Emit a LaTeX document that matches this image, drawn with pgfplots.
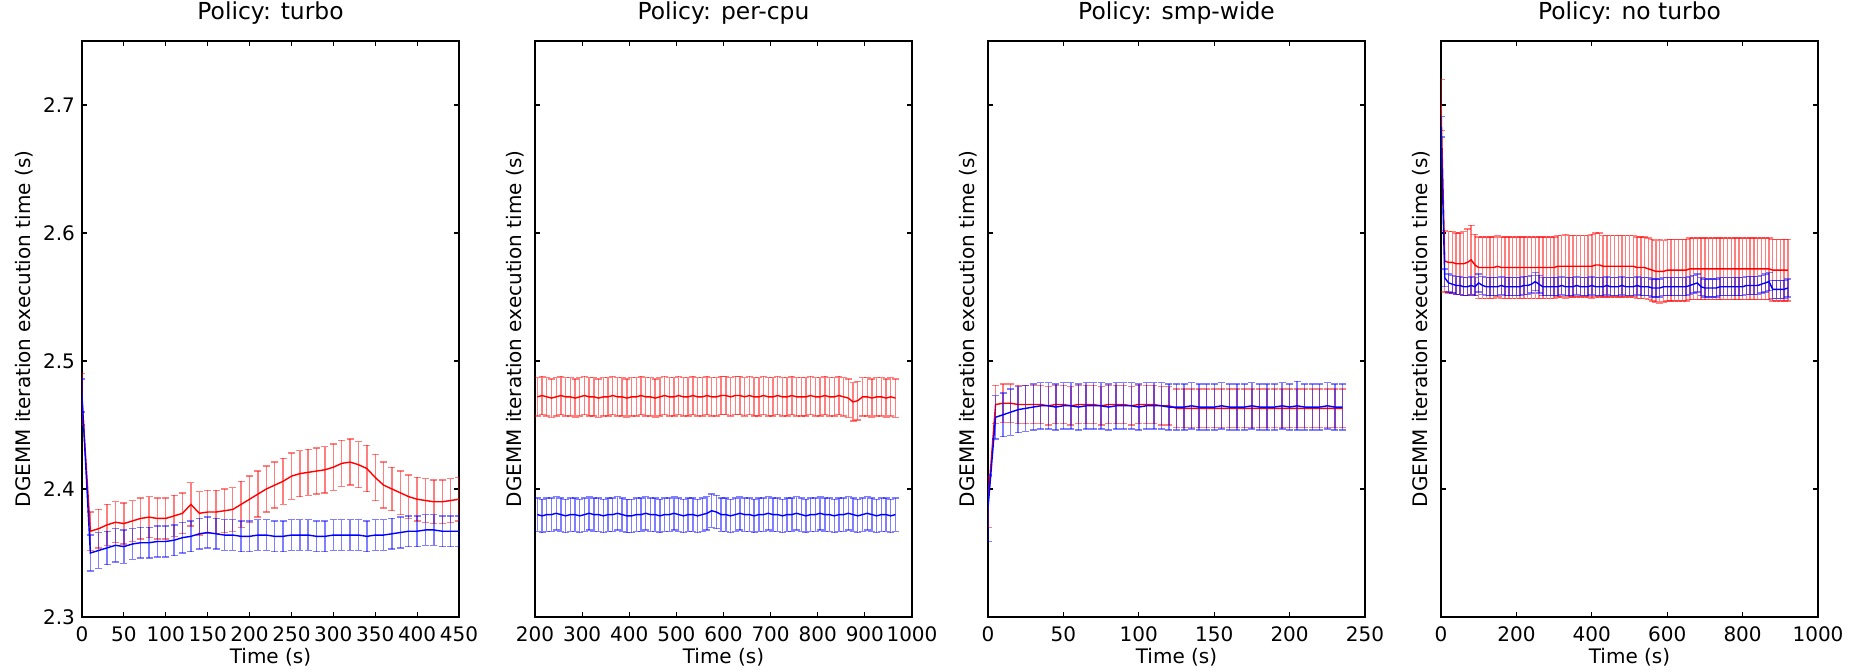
\documentclass[border=0pt]{standalone}
\usepackage{fontspec}
\setmainfont{DejaVu Sans}
\usepackage{pgfplots}
\usepackage{pgfplotstable}
\pgfplotsset{compat=1.18}

\definecolor{mplred}{HTML}{FF0000}
\definecolor{mplblue}{HTML}{0000FF}

% columns: time, red mean, red err, blue mean, blue err
\pgfplotstableread{
x r re b be
0 2.470 0.020 2.473 0.013
10 2.367 0.015 2.350 0.014
20 2.369 0.015 2.352 0.014
30 2.372 0.016 2.354 0.013
40 2.374 0.016 2.356 0.013
50 2.373 0.016 2.355 0.013
60 2.375 0.016 2.357 0.012
70 2.377 0.016 2.358 0.012
80 2.378 0.016 2.358 0.012
90 2.377 0.016 2.359 0.012
100 2.377 0.016 2.359 0.012
110 2.379 0.016 2.360 0.012
120 2.381 0.016 2.362 0.012
130 2.388 0.017 2.363 0.012
140 2.381 0.017 2.365 0.012
150 2.382 0.017 2.366 0.012
160 2.382 0.017 2.365 0.012
170 2.383 0.017 2.364 0.012
180 2.384 0.017 2.364 0.012
190 2.388 0.018 2.363 0.012
200 2.392 0.018 2.363 0.012
210 2.396 0.018 2.364 0.012
220 2.400 0.018 2.364 0.012
230 2.403 0.018 2.363 0.012
240 2.406 0.018 2.363 0.012
250 2.410 0.018 2.364 0.012
260 2.412 0.018 2.364 0.012
270 2.413 0.018 2.364 0.012
280 2.414 0.018 2.363 0.012
290 2.415 0.018 2.363 0.012
300 2.417 0.018 2.364 0.012
310 2.420 0.018 2.364 0.012
320 2.421 0.018 2.364 0.012
330 2.419 0.018 2.364 0.012
340 2.416 0.018 2.363 0.012
350 2.409 0.018 2.364 0.012
360 2.403 0.018 2.364 0.012
370 2.400 0.017 2.365 0.012
380 2.397 0.017 2.366 0.012
390 2.394 0.017 2.367 0.012
400 2.392 0.017 2.367 0.012
410 2.391 0.017 2.368 0.012
420 2.390 0.017 2.368 0.012
430 2.390 0.017 2.367 0.012
440 2.391 0.017 2.367 0.012
450 2.392 0.017 2.367 0.012
}\turbo

\pgfplotstableread{
x r re b be
205 2.472 0.015 2.380 0.013
215 2.473 0.015 2.379 0.013
225 2.472 0.015 2.380 0.013
235 2.471 0.015 2.380 0.013
245 2.472 0.015 2.381 0.013
255 2.473 0.015 2.380 0.013
265 2.472 0.015 2.379 0.013
275 2.472 0.015 2.380 0.013
285 2.471 0.015 2.380 0.013
295 2.472 0.015 2.379 0.013
305 2.473 0.015 2.380 0.013
315 2.472 0.015 2.381 0.013
325 2.472 0.015 2.380 0.013
335 2.471 0.015 2.380 0.013
345 2.472 0.015 2.379 0.013
355 2.472 0.015 2.380 0.013
365 2.473 0.015 2.380 0.013
375 2.472 0.015 2.381 0.013
385 2.472 0.015 2.380 0.013
395 2.471 0.015 2.379 0.013
405 2.472 0.015 2.379 0.013
415 2.472 0.015 2.380 0.013
425 2.473 0.015 2.380 0.013
435 2.472 0.015 2.381 0.013
445 2.472 0.015 2.380 0.013
455 2.471 0.015 2.380 0.013
465 2.472 0.015 2.379 0.013
475 2.473 0.015 2.380 0.013
485 2.472 0.015 2.380 0.013
495 2.472 0.015 2.381 0.013
505 2.473 0.015 2.380 0.013
515 2.472 0.015 2.379 0.013
525 2.472 0.015 2.380 0.013
535 2.473 0.015 2.380 0.013
545 2.472 0.015 2.379 0.013
555 2.472 0.015 2.380 0.013
565 2.473 0.015 2.381 0.013
575 2.472 0.015 2.383 0.013
585 2.472 0.015 2.382 0.013
595 2.473 0.015 2.380 0.013
605 2.473 0.015 2.380 0.013
615 2.472 0.015 2.379 0.013
625 2.473 0.015 2.380 0.013
635 2.473 0.015 2.381 0.013
645 2.472 0.015 2.380 0.013
655 2.473 0.015 2.380 0.013
665 2.472 0.015 2.379 0.013
675 2.472 0.015 2.380 0.013
685 2.473 0.015 2.380 0.013
695 2.472 0.015 2.381 0.013
705 2.472 0.015 2.380 0.013
715 2.473 0.015 2.380 0.013
725 2.472 0.015 2.379 0.013
735 2.472 0.015 2.380 0.013
745 2.473 0.015 2.380 0.013
755 2.472 0.015 2.381 0.013
765 2.472 0.015 2.380 0.013
775 2.472 0.015 2.379 0.013
785 2.473 0.015 2.380 0.013
795 2.472 0.015 2.380 0.013
805 2.472 0.015 2.381 0.013
815 2.473 0.015 2.380 0.013
825 2.472 0.015 2.380 0.013
835 2.472 0.015 2.379 0.013
845 2.473 0.015 2.380 0.013
855 2.472 0.015 2.380 0.013
865 2.471 0.015 2.381 0.013
875 2.468 0.015 2.380 0.013
885 2.469 0.015 2.379 0.013
895 2.472 0.015 2.380 0.013
905 2.472 0.015 2.381 0.013
915 2.471 0.015 2.380 0.013
925 2.472 0.015 2.379 0.013
935 2.472 0.015 2.380 0.013
945 2.471 0.015 2.380 0.013
955 2.472 0.015 2.379 0.013
965 2.471 0.015 2.380 0.013
}\percpu

\pgfplotstableread{
x r re b be
0 2.390 0.020 2.385 0.026
5 2.466 0.015 2.456 0.017
10 2.467 0.015 2.458 0.017
15 2.467 0.015 2.460 0.018
20 2.466 0.015 2.462 0.018
25 2.466 0.015 2.463 0.018
30 2.466 0.015 2.464 0.018
35 2.466 0.015 2.465 0.018
40 2.465 0.015 2.465 0.018
45 2.466 0.015 2.464 0.018
50 2.466 0.015 2.465 0.018
55 2.465 0.015 2.465 0.018
60 2.466 0.015 2.464 0.018
65 2.466 0.015 2.465 0.018
70 2.466 0.015 2.465 0.018
75 2.465 0.015 2.465 0.018
80 2.466 0.015 2.464 0.018
85 2.466 0.015 2.465 0.018
90 2.466 0.015 2.465 0.018
95 2.465 0.015 2.465 0.018
100 2.466 0.015 2.464 0.018
105 2.466 0.015 2.465 0.018
110 2.466 0.015 2.465 0.018
115 2.465 0.015 2.465 0.018
120 2.465 0.015 2.464 0.018
125 2.463 0.015 2.464 0.018
130 2.463 0.015 2.464 0.018
135 2.463 0.015 2.465 0.018
140 2.463 0.015 2.464 0.018
145 2.463 0.015 2.464 0.018
150 2.463 0.015 2.464 0.018
155 2.463 0.015 2.465 0.018
160 2.463 0.015 2.464 0.018
165 2.463 0.015 2.464 0.018
170 2.463 0.015 2.464 0.018
175 2.463 0.015 2.465 0.018
180 2.463 0.015 2.464 0.018
185 2.463 0.015 2.464 0.018
190 2.463 0.015 2.464 0.018
195 2.463 0.015 2.465 0.018
200 2.463 0.015 2.464 0.018
205 2.463 0.015 2.465 0.019
210 2.463 0.015 2.464 0.018
215 2.463 0.015 2.464 0.018
220 2.463 0.015 2.464 0.018
225 2.463 0.015 2.465 0.018
230 2.463 0.015 2.464 0.018
235 2.463 0.015 2.464 0.018
}\smpwide

\pgfplotstableread{
x r re b be
0 2.700 0.020 2.683 0.008
10 2.578 0.024 2.565 0.007
20 2.577 0.024 2.561 0.007
30 2.577 0.024 2.560 0.007
40 2.576 0.024 2.559 0.007
50 2.576 0.024 2.559 0.007
60 2.576 0.025 2.558 0.007
70 2.577 0.026 2.558 0.007
80 2.579 0.027 2.559 0.007
90 2.575 0.024 2.558 0.007
100 2.573 0.024 2.561 0.007
110 2.573 0.024 2.559 0.007
120 2.573 0.024 2.558 0.007
130 2.573 0.024 2.558 0.007
140 2.573 0.024 2.558 0.007
150 2.574 0.024 2.558 0.007
160 2.573 0.024 2.559 0.007
170 2.573 0.024 2.558 0.007
180 2.573 0.024 2.558 0.007
190 2.573 0.024 2.558 0.007
200 2.573 0.024 2.558 0.007
210 2.573 0.024 2.558 0.007
220 2.573 0.024 2.559 0.007
230 2.573 0.024 2.559 0.007
240 2.573 0.024 2.560 0.007
250 2.573 0.024 2.562 0.007
260 2.573 0.024 2.560 0.007
270 2.573 0.024 2.558 0.007
280 2.573 0.024 2.558 0.007
290 2.573 0.024 2.558 0.007
300 2.573 0.024 2.558 0.007
310 2.574 0.024 2.558 0.007
320 2.574 0.024 2.559 0.007
330 2.574 0.025 2.558 0.007
340 2.574 0.024 2.558 0.007
350 2.574 0.024 2.558 0.007
360 2.574 0.024 2.559 0.007
370 2.574 0.024 2.558 0.007
380 2.574 0.024 2.558 0.007
390 2.574 0.024 2.558 0.007
400 2.574 0.025 2.559 0.007
410 2.575 0.025 2.558 0.007
420 2.575 0.025 2.558 0.007
430 2.574 0.024 2.558 0.007
440 2.574 0.024 2.559 0.007
450 2.574 0.024 2.558 0.007
460 2.574 0.024 2.558 0.007
470 2.574 0.024 2.558 0.007
480 2.574 0.024 2.559 0.007
490 2.574 0.024 2.558 0.007
500 2.574 0.024 2.558 0.007
510 2.574 0.024 2.558 0.007
520 2.573 0.024 2.559 0.007
530 2.573 0.024 2.558 0.007
540 2.573 0.024 2.558 0.007
550 2.572 0.024 2.558 0.007
560 2.571 0.024 2.557 0.007
570 2.570 0.024 2.557 0.007
580 2.570 0.025 2.557 0.007
590 2.570 0.024 2.558 0.007
600 2.571 0.024 2.558 0.007
610 2.571 0.024 2.558 0.007
620 2.571 0.024 2.558 0.007
630 2.571 0.024 2.558 0.007
640 2.571 0.024 2.558 0.007
650 2.571 0.024 2.558 0.007
660 2.572 0.024 2.559 0.007
670 2.572 0.024 2.560 0.007
680 2.572 0.024 2.561 0.007
690 2.572 0.024 2.558 0.007
700 2.572 0.024 2.557 0.007
710 2.572 0.024 2.557 0.007
720 2.572 0.024 2.557 0.007
730 2.572 0.024 2.557 0.007
740 2.572 0.024 2.558 0.007
750 2.572 0.024 2.558 0.007
760 2.572 0.024 2.558 0.007
770 2.572 0.024 2.558 0.007
780 2.572 0.024 2.558 0.007
790 2.572 0.024 2.558 0.007
800 2.572 0.024 2.558 0.007
810 2.572 0.024 2.559 0.007
820 2.572 0.024 2.559 0.007
830 2.572 0.024 2.559 0.007
840 2.572 0.024 2.559 0.007
850 2.572 0.024 2.560 0.007
860 2.572 0.024 2.561 0.007
870 2.572 0.024 2.562 0.007
880 2.571 0.024 2.556 0.007
890 2.571 0.024 2.556 0.007
900 2.571 0.024 2.556 0.007
910 2.571 0.024 2.556 0.007
920 2.571 0.024 2.557 0.007
}\noturbo

\pgfplotsset{
  panel/.style={
    scale only axis,
    width=188.5pt, height=288pt,
    ymin=2.3, ymax=2.75,
    ytick={2.3,2.4,2.5,2.6,2.7},
    tick align=inside,
    major tick length=2.5pt,
    tick style={black, line width=0.6pt},
    axis line style={black, line width=1pt},
    scaled ticks=false,
    tick label style={font=\fontsize{10}{12}\selectfont},
    /pgf/number format/assume math mode=true,
    /pgf/number format/1000 sep={},
    yticklabel style={/pgf/number format/.cd, fixed, fixed zerofill, precision=1},
    xticklabel style={yshift=-1.5pt},
    title style={font=\fontsize{11.7}{14}\selectfont, anchor=base, yshift=4.75pt},
    label style={font=\fontsize{10}{12}\selectfont},
    xlabel={Time (s)},
    ylabel={DGEMM iteration execution time (s)},
    xlabel style={at={(axis description cs:0.5,-0.0694)}, anchor=center},
    ylabel style={at={(axis description cs:-0.053,0.5)}, anchor=center},
  },
  redser/.style={mplred, line width=0.7pt, no markers,
    error bars/.cd, y dir=both, y explicit,
    error bar style={mplred, draw opacity=0.5, line width=0.7pt},
    error mark options={mplred, draw opacity=0.5, mark size=1.75pt, line width=0.7pt, rotate=90}},
  blueser/.style={mplblue, line width=0.7pt, no markers,
    error bars/.cd, y dir=both, y explicit,
    error bar style={mplblue, draw opacity=0.5, line width=0.7pt},
    error mark options={mplblue, draw opacity=0.5, mark size=1.75pt, line width=0.7pt, rotate=90}},
}

\begin{document}
\begin{tikzpicture}
\useasboundingbox (-41pt,-27.5pt) rectangle (889pt,308.5pt);

\begin{axis}[panel, at={(0pt,0pt)}, anchor=south west,
  title={Policy: turbo},
  xmin=0, xmax=450, xtick={0,50,...,450},
  ylabel style={at={(axis description cs:-0.154,0.5)}}]
  \addplot[redser] table[x=x, y=r, y error=re] {\turbo};
  \addplot[blueser] table[x=x, y=b, y error=be] {\turbo};
\end{axis}

\begin{axis}[panel, at={(226.5pt,0pt)}, anchor=south west,
  title={Policy: per-cpu},
  xmin=200, xmax=1000, xtick={200,300,...,1000},
  yticklabels={}]
  \addplot[redser] table[x=x, y=r, y error=re] {\percpu};
  \addplot[blueser] table[x=x, y=b, y error=be] {\percpu};
\end{axis}

\begin{axis}[panel, at={(453pt,0pt)}, anchor=south west,
  title={Policy: smp-wide},
  xmin=0, xmax=250, xtick={0,50,...,250},
  yticklabels={}]
  \addplot[redser] table[x=x, y=r, y error=re] {\smpwide};
  \addplot[blueser] table[x=x, y=b, y error=be] {\smpwide};
\end{axis}

\begin{axis}[panel, at={(679.5pt,0pt)}, anchor=south west,
  title={Policy: no turbo},
  xmin=0, xmax=1000, xtick={0,200,...,1000},
  yticklabels={}]
  \addplot[redser] table[x=x, y=r, y error=re] {\noturbo};
  \addplot[blueser] table[x=x, y=b, y error=be] {\noturbo};
\end{axis}
\end{tikzpicture}
\end{document}
